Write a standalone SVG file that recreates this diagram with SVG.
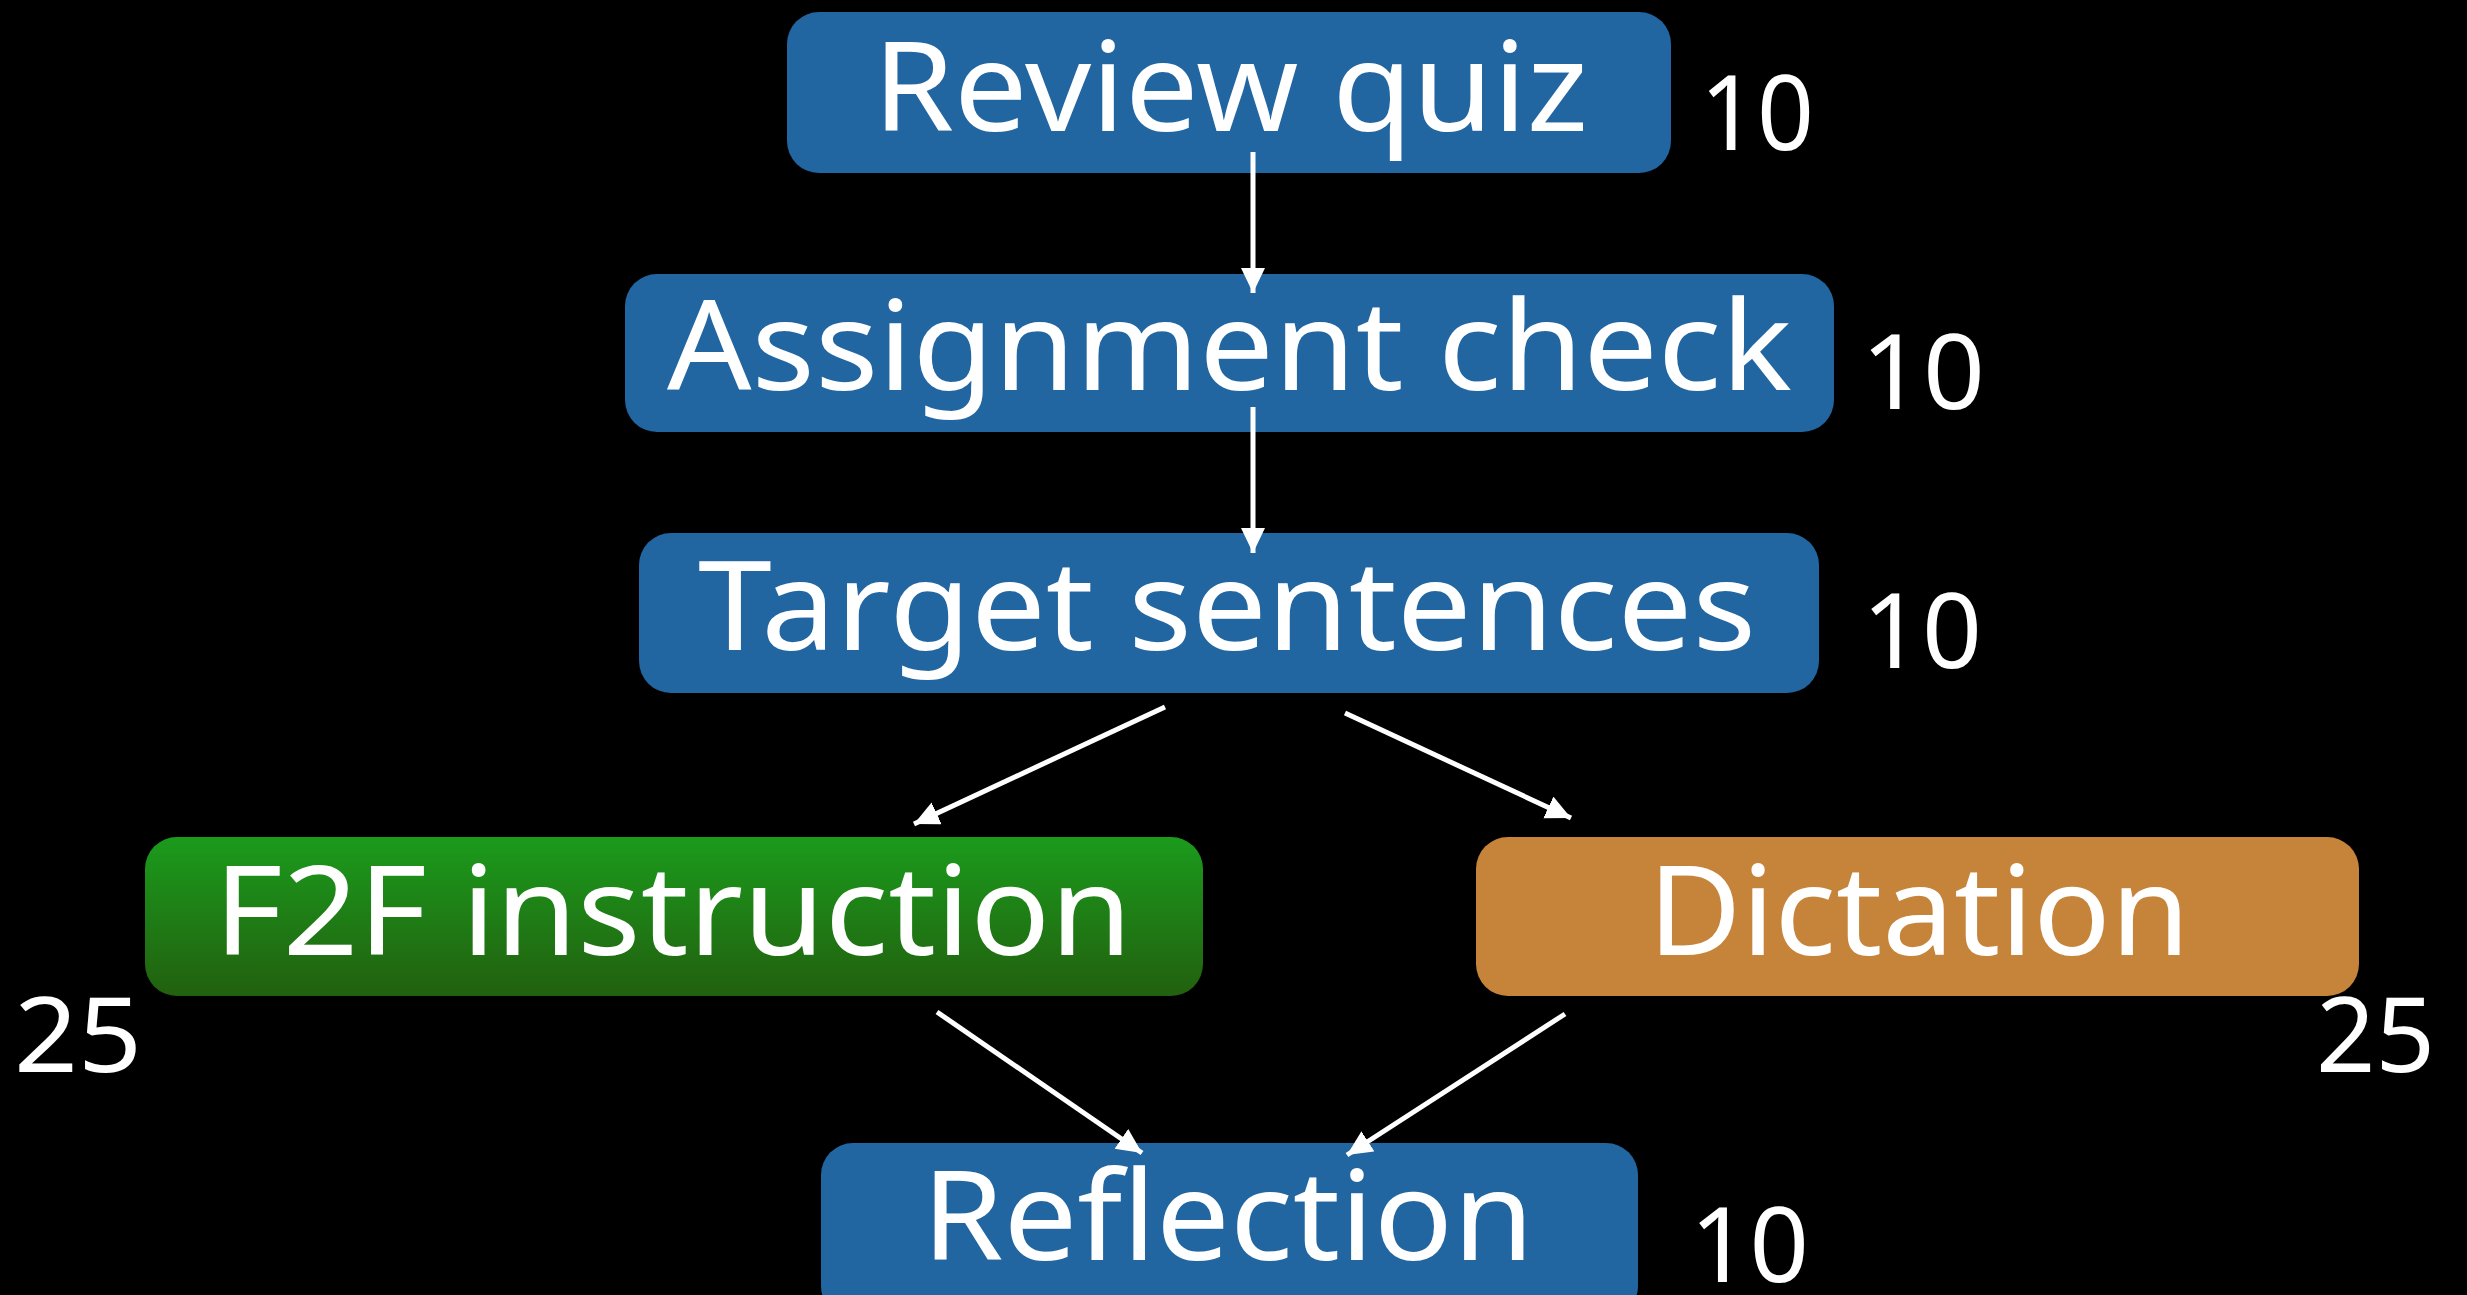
<svg xmlns="http://www.w3.org/2000/svg" width="2467" height="1295" viewBox="0 0 2467 1295">
<style>
.box-blue{fill:#2165a1}
.box-orange{fill:#c5843a}
.lbl{font-family:"Noto Sans","Liberation Sans",sans-serif;font-size:125px;fill:#ffffff}
.num{font-family:"Noto Sans","Liberation Sans",sans-serif;font-size:104px;fill:#ffffff}
.conn{stroke:#ffffff;stroke-width:5;fill:none}
</style>
<defs>
<linearGradient id="gGreen" x1="0" y1="0" x2="0" y2="1">
<stop offset="0" stop-color="#1b9b1c"/>
<stop offset="1" stop-color="#22600f"/>
</linearGradient>
<marker id="arr" markerUnits="userSpaceOnUse" markerWidth="26" markerHeight="26" refX="25" refY="12" orient="auto">
<path d="M0,0 L25,12 L0,24 Z" fill="#ffffff"/>
</marker>
</defs>
<rect width="2467" height="1295" fill="#000000"/>
<g id="n-review">
<rect class="box-blue" x="787" y="12" width="884" height="161" rx="32"/>
<text class="lbl" x="873" y="131" textLength="715" lengthAdjust="spacingAndGlyphs">Review quiz</text>
</g>
<g id="n-assign">
<rect class="box-blue" x="625" y="274" width="1209" height="158" rx="32"/>
<text class="lbl" x="667" y="390" textLength="1125" lengthAdjust="spacingAndGlyphs">Assignment check</text>
</g>
<g id="n-target">
<rect class="box-blue" x="639" y="533" width="1180" height="160" rx="32"/>
<text class="lbl" x="698" y="650" textLength="1058" lengthAdjust="spacingAndGlyphs">Target sentences</text>
</g>
<g id="n-f2f">
<rect x="145" y="837" width="1058" height="159" rx="32" fill="url(#gGreen)"/>
<text class="lbl" x="214" y="955" textLength="918" lengthAdjust="spacingAndGlyphs">F2F instruction</text>
</g>
<g id="n-dict">
<rect class="box-orange" x="1476" y="837" width="883" height="159" rx="32"/>
<text class="lbl" x="1648" y="955" textLength="542" lengthAdjust="spacingAndGlyphs">Dictation</text>
</g>
<g id="n-refl">
<rect class="box-blue" x="821" y="1143" width="817" height="175" rx="32"/>
<text class="lbl" x="922" y="1260" textLength="612" lengthAdjust="spacingAndGlyphs">Reflection</text>
</g>
<g id="numbers">
<text class="num" x="1700" y="150" textLength="114" lengthAdjust="spacingAndGlyphs">10</text>
<text class="num" x="1861" y="409" textLength="124" lengthAdjust="spacingAndGlyphs">10</text>
<text class="num" x="1862" y="668" textLength="120" lengthAdjust="spacingAndGlyphs">10</text>
<text class="num" x="14" y="1072" textLength="128" lengthAdjust="spacingAndGlyphs">25</text>
<text class="num" x="2316" y="1072" textLength="119" lengthAdjust="spacingAndGlyphs">25</text>
<text class="num" x="1690" y="1282" textLength="119" lengthAdjust="spacingAndGlyphs">10</text>
</g>
<g id="connectors">
<line class="conn" x1="1253" y1="152" x2="1253" y2="293" marker-end="url(#arr)"/>
<line class="conn" x1="1253" y1="407" x2="1253" y2="553" marker-end="url(#arr)"/>
<line class="conn" x1="1165" y1="707" x2="914" y2="824" marker-end="url(#arr)"/>
<line class="conn" x1="1345" y1="713" x2="1571" y2="818" marker-end="url(#arr)"/>
<line class="conn" x1="937" y1="1012" x2="1142" y2="1153" marker-end="url(#arr)"/>
<line class="conn" x1="1565" y1="1014" x2="1347" y2="1155" marker-end="url(#arr)"/>
</g>
</svg>
